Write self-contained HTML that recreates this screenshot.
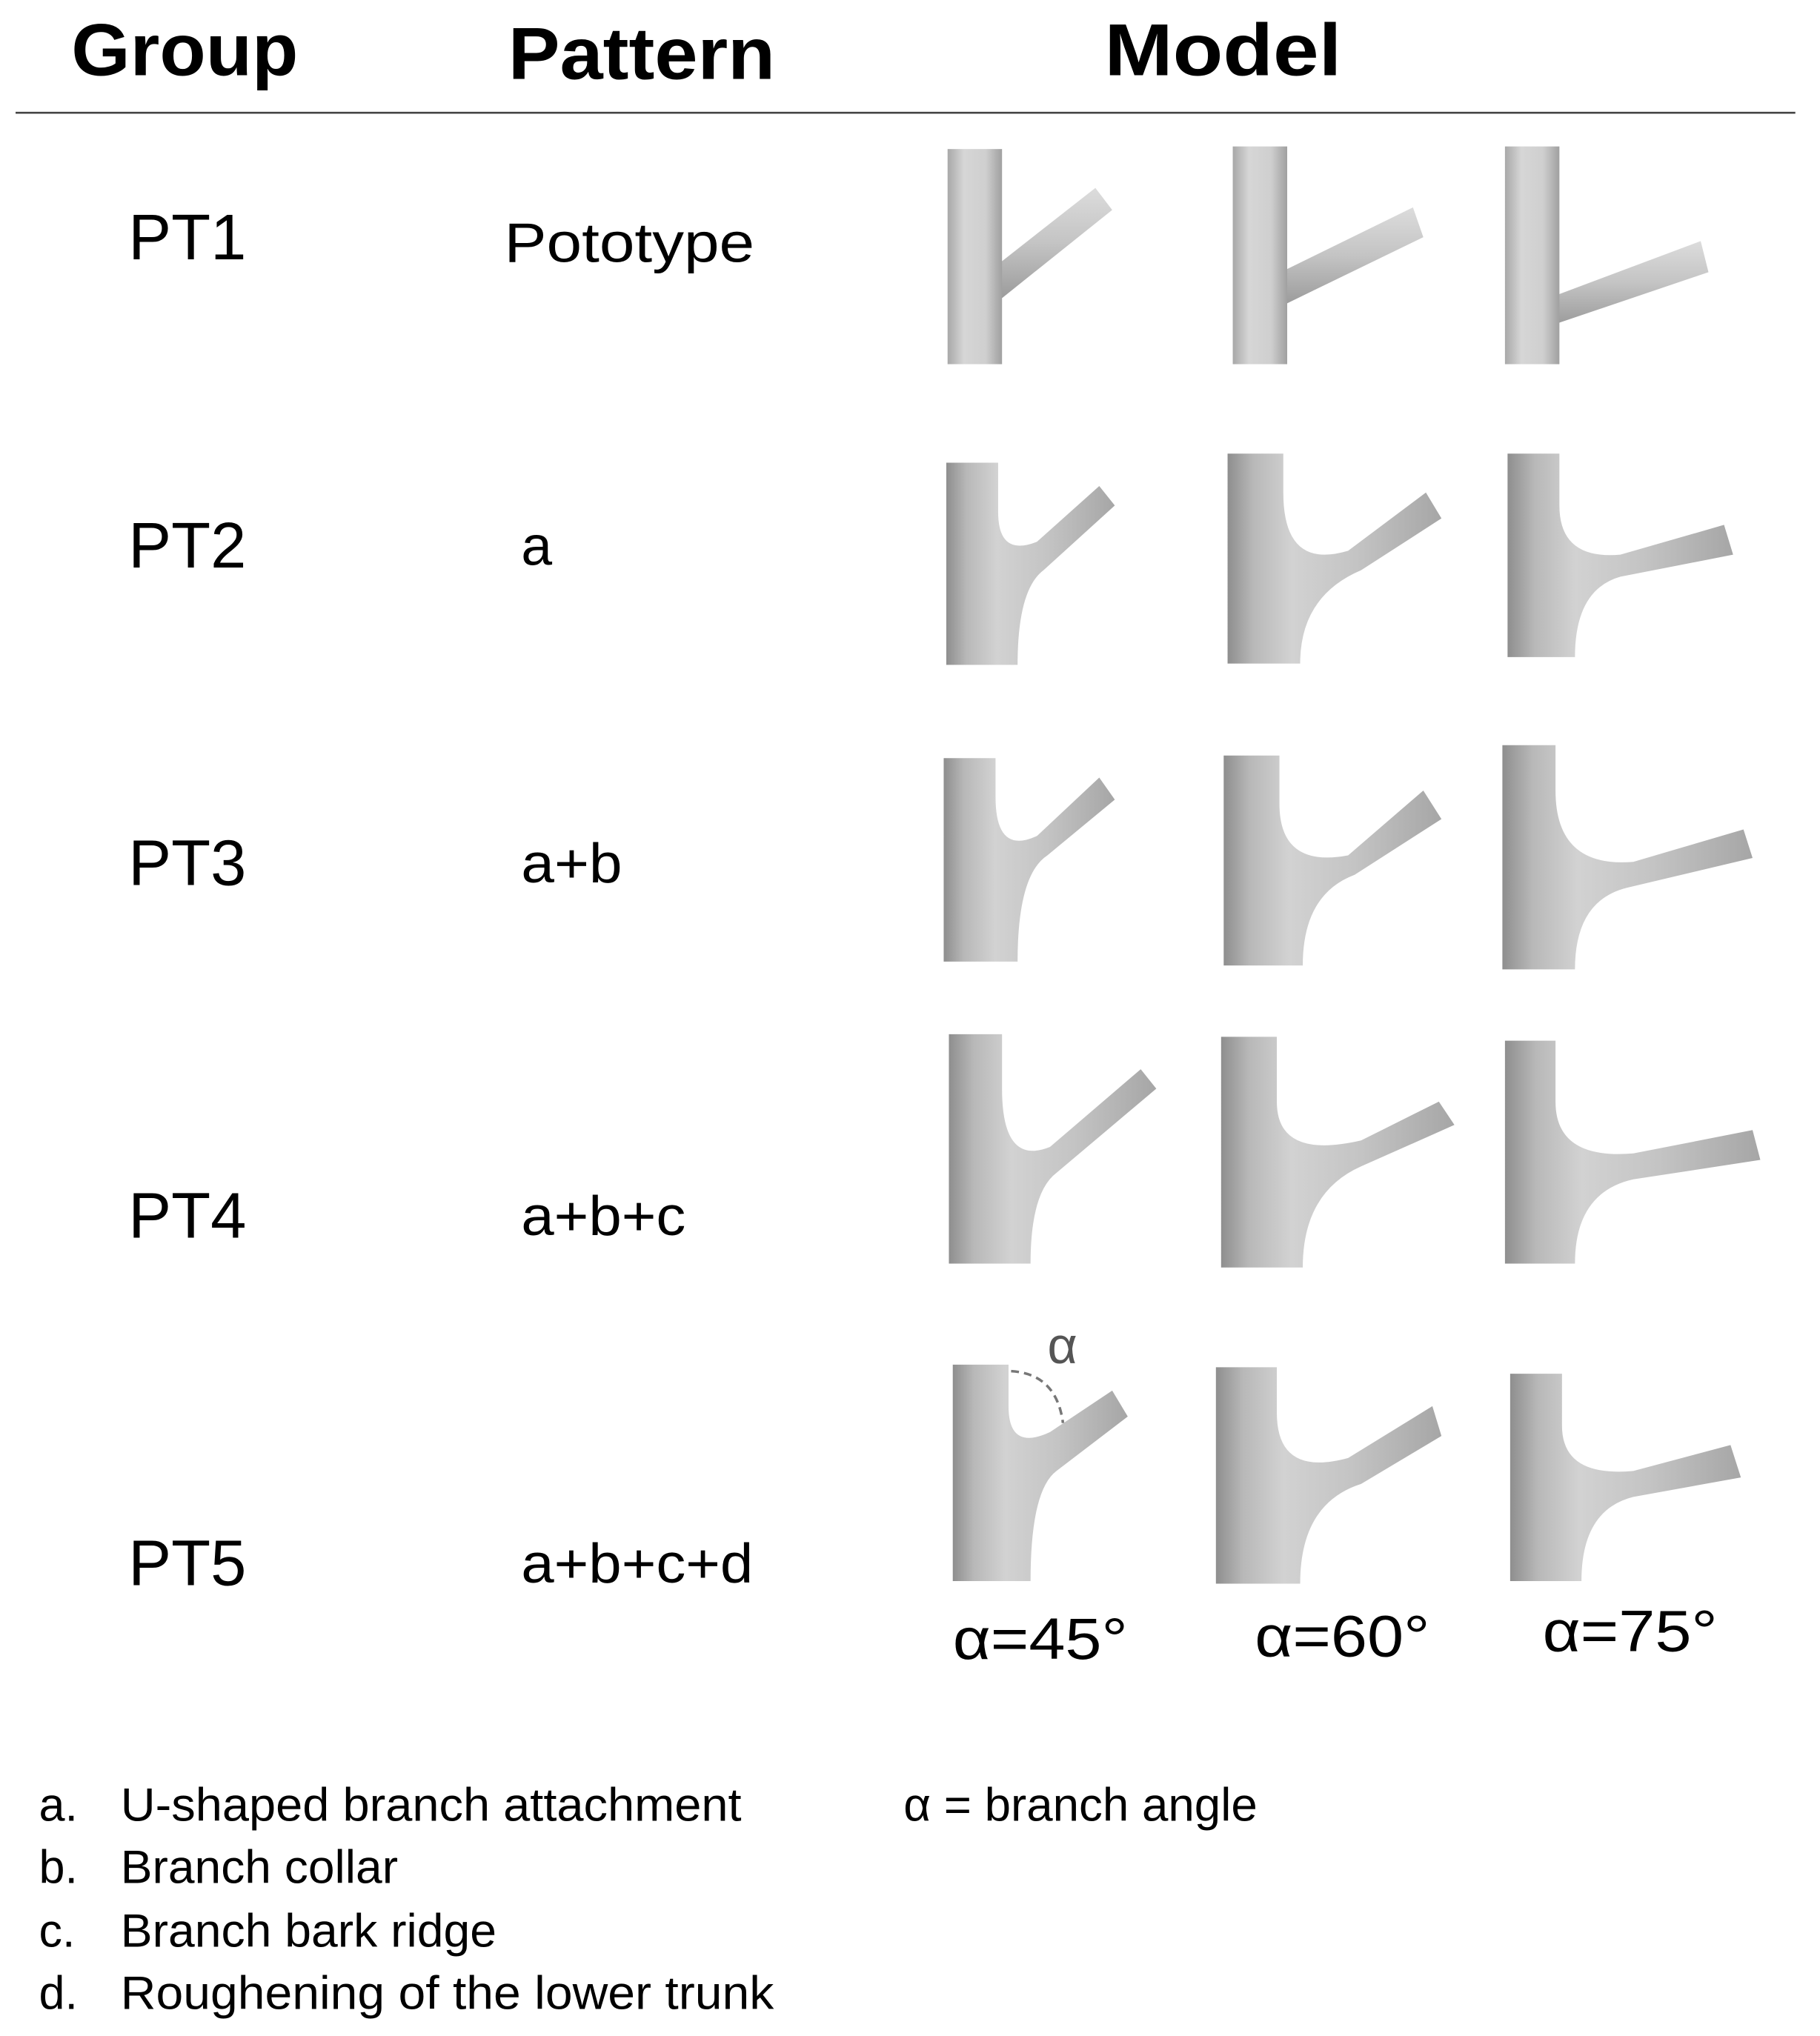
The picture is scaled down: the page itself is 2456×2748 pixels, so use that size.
<!DOCTYPE html>
<html><head><meta charset="utf-8"><style>
html,body{margin:0;padding:0;background:#fff;}
svg{display:block;}
text{font-family:"Liberation Sans","DejaVu Sans",sans-serif;fill:#000;}
</style></head><body>
<svg width="2456" height="2748" viewBox="0 0 1404 1571" xmlns="http://www.w3.org/2000/svg">
<defs>
<linearGradient id="g" x1="0" y1="0" x2="1" y2="0">
<stop offset="0" stop-color="#8e8e8e"/><stop offset="0.12" stop-color="#b8b8b8"/><stop offset="0.3" stop-color="#d2d2d2"/><stop offset="0.6" stop-color="#c4c4c4"/><stop offset="1" stop-color="#a6a6a6"/>
</linearGradient>
<linearGradient id="t" x1="0" y1="0" x2="1" y2="0">
<stop offset="0" stop-color="#a8a8a8"/><stop offset="0.3" stop-color="#d6d6d6"/><stop offset="0.7" stop-color="#cfcfcf"/><stop offset="1" stop-color="#a0a0a0"/>
</linearGradient>
<linearGradient id="b" x1="0" y1="0" x2="0" y2="1">
<stop offset="0" stop-color="#dcdcdc"/><stop offset="0.5" stop-color="#c4c4c4"/><stop offset="1" stop-color="#9c9c9c"/>
</linearGradient>
</defs>
<g lengthAdjust="spacingAndGlyphs">
<text x="55" y="58" font-size="57" font-weight="bold" textLength="175" lengthAdjust="spacingAndGlyphs">Group</text>
<text x="392" y="61" font-size="57" font-weight="bold" textLength="206" lengthAdjust="spacingAndGlyphs">Pattern</text>
<text x="852" y="58" font-size="57" font-weight="bold" textLength="183" lengthAdjust="spacingAndGlyphs">Model</text>
</g>
<line x1="12" y1="87" x2="1385" y2="87" stroke="#444" stroke-width="1.5"/>

<g font-size="50">
<text x="99" y="200" textLength="91" lengthAdjust="spacingAndGlyphs">PT1</text>
<text x="99" y="438" textLength="91" lengthAdjust="spacingAndGlyphs">PT2</text>
<text x="99" y="683" textLength="91" lengthAdjust="spacingAndGlyphs">PT3</text>
<text x="99" y="955" textLength="91" lengthAdjust="spacingAndGlyphs">PT4</text>
<text x="99" y="1223" textLength="91" lengthAdjust="spacingAndGlyphs">PT5</text>
</g>
<g font-size="43">
<text x="389" y="202" textLength="193" lengthAdjust="spacingAndGlyphs">Pototype</text>
<text x="402" y="436">a</text>
<text x="402" y="681" textLength="78" lengthAdjust="spacingAndGlyphs">a+b</text>
<text x="402" y="953" textLength="127" lengthAdjust="spacingAndGlyphs">a+b+c</text>
<text x="402" y="1221" textLength="179" lengthAdjust="spacingAndGlyphs">a+b+c+d</text>
</g>

<!-- PT1 -->
<polygon points="766,207 845,145 858,162 773,230" fill="url(#b)"/>
<rect x="731" y="115" width="42" height="166" fill="url(#t)"/>
<polygon points="988,210 1090,160 1098,183 993,234" fill="url(#b)"/>
<rect x="951" y="113" width="42" height="168" fill="url(#t)"/>
<polygon points="1200,228 1312,186 1318,210 1200,250" fill="url(#b)"/>
<rect x="1161" y="113" width="42" height="168" fill="url(#t)"/>

<!-- PT2 -->
<path d="M730,357 H770 V395 Q770,430 800,418 L848,375 L860,390 L805,440 Q785,455 785,513 H730 Z" fill="url(#g)"/>
<path d="M947,350 H990 V380 Q990,440 1040,425 L1100,380 L1112,400 L1050,440 Q1003,460 1003,512 H947 Z" fill="url(#g)"/>
<path d="M1163,350 H1203 V390 Q1203,432 1250,428 L1330,405 L1337,428 L1250,445 Q1215,455 1215,507 H1163 Z" fill="url(#g)"/>
<!-- PT3 -->
<path d="M728,585 H768 V615 Q768,660 800,645 L848,600 L860,617 L808,660 Q785,675 785,742 H728 Z" fill="url(#g)"/>
<path d="M944,583 H987 V620 Q987,670 1040,660 L1098,610 L1112,632 L1045,675 Q1005,690 1005,745 H944 Z" fill="url(#g)"/>
<path d="M1159,575 H1200 V610 Q1200,670 1260,665 L1345,640 L1352,662 L1255,685 Q1215,695 1215,748 H1159 Z" fill="url(#g)"/>
<!-- PT4 -->
<path d="M732,798 H773 V840 Q773,900 810,885 L880,825 L892,840 L815,905 Q795,920 795,975 H732 Z" fill="url(#g)"/>
<path d="M942,800 H985 V850 Q985,895 1050,880 L1110,850 L1122,868 L1050,900 Q1005,920 1005,978 H942 Z" fill="url(#g)"/>
<path d="M1161,803 H1200 V850 Q1200,895 1260,890 L1352,872 L1358,895 L1260,910 Q1215,920 1215,975 H1161 Z" fill="url(#g)"/>
<!-- PT5 -->
<path d="M735,1053 H778 V1085 Q778,1120 810,1105 L858,1073 L870,1093 L815,1135 Q795,1150 795,1220 H735 Z" fill="url(#g)"/>
<path d="M780,1058 Q815,1060 820,1098" fill="none" stroke="#777" stroke-width="2" stroke-dasharray="6,4"/>
<text x="808" y="1052" font-size="40" style="fill:#555">α</text>
<path d="M938,1055 H985 V1090 Q985,1140 1040,1125 L1105,1085 L1112,1108 L1050,1145 Q1003,1160 1003,1222 H938 Z" fill="url(#g)"/>
<path d="M1165,1060 H1205 V1100 Q1205,1140 1260,1135 L1335,1115 L1343,1140 L1260,1155 Q1220,1165 1220,1220 H1165 Z" fill="url(#g)"/>

<g font-size="45">
<text x="735" y="1280" textLength="135" lengthAdjust="spacingAndGlyphs">α=45°</text>
<text x="968" y="1278" textLength="135" lengthAdjust="spacingAndGlyphs">α=60°</text>
<text x="1190" y="1274" textLength="135" lengthAdjust="spacingAndGlyphs">α=75°</text>
</g>

<g font-size="36">
<text x="30" y="1405">a.</text><text x="93" y="1405" textLength="479" lengthAdjust="spacingAndGlyphs">U-shaped branch attachment</text>
<text x="697" y="1405" textLength="273" lengthAdjust="spacingAndGlyphs">α = branch angle</text>
<text x="30" y="1453">b.</text><text x="93" y="1453" textLength="214" lengthAdjust="spacingAndGlyphs">Branch collar</text>
<text x="30" y="1502">c.</text><text x="93" y="1502" textLength="290" lengthAdjust="spacingAndGlyphs">Branch bark ridge</text>
<text x="30" y="1550">d.</text><text x="93" y="1550" textLength="504" lengthAdjust="spacingAndGlyphs">Roughening of the lower trunk</text>
</g>
</svg>
</body></html>
